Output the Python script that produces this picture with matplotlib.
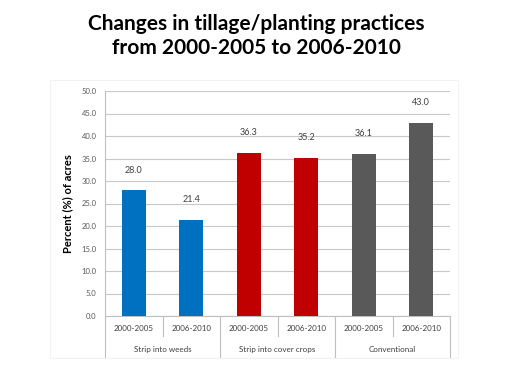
import numpy as np
import matplotlib.pyplot as plt
from matplotlib.patches import Rectangle

groups = ['Strip into weeds', 'Strip into cover crops', 'Conventional']
periods = ['2000-2005', '2006-2010']
values = [28.0, 21.4, 36.3, 35.2, 36.1, 43.0]
colors = ['#0070C0', '#0070C0', '#C00000', '#C00000', '#595959', '#595959']

plt.rcParams['font.family'] = ['Lato', 'DejaVu Sans']

fig = plt.figure(figsize=(5.12, 3.84), dpi=100)
W, H = 512, 384
ax = fig.add_axes([105 / W, 1 - 316 / H, (450 - 105) / W, (316 - 91) / H])

x = np.arange(len(values))
ax.bar(x, values, width=0.42, color=colors, zorder=3)
for xi, v in zip(x, values):
    ax.text(xi, v + 4.4, f'{v:.1f}', ha='center', va='center', fontsize=6.5, color='#404040')

ax.set_xlim(-0.5, len(values) - 0.5)
ax.set_ylim(0, 50)
ax.set_yticks(np.arange(0, 50.1, 5))
ax.set_yticklabels([f'{t:.1f}' for t in np.arange(0, 50.1, 5)], fontsize=5.5, color='#595959')
ax.yaxis.grid(True, color='#C8C8C8', lw=0.8, zorder=0)
ax.tick_params(axis='y', length=0, pad=6)
ax.tick_params(axis='x', length=0, labelbottom=False)
for s in ['top', 'right']:
    ax.spines[s].set_visible(False)
ax.spines['left'].set_color('#BFBFBF')
ax.spines['bottom'].set_color('#BFBFBF')
ax.set_ylabel('Percent (%) of acres', fontsize=8, fontweight='bold', labelpad=6)

# two-level category axis
trans = ax.get_xaxis_transform()
for i, p in enumerate(periods * len(groups)):
    ax.text(i, -0.057, p, transform=trans, ha='center', va='center', fontsize=5.8, color='#404040')
for g, name in enumerate(groups):
    ax.text(2 * g + 0.5, -0.15, name, transform=trans, ha='center', va='center', fontsize=5.8, color='#404040')
for b in np.arange(-0.5, len(values), 1.0):
    depth = -0.186 if (b + 0.5) % 2 == 0 else -0.09
    ax.plot([b, b], [0, depth], transform=trans, color='#BFBFBF', lw=0.8, clip_on=False)

# chart area frame
fig.patches.append(Rectangle((50 / W, 1 - 358 / H), (458 - 50) / W, (358 - 80) / H,
                             transform=fig.transFigure, fill=False, ec='#F2F2F2', lw=0.8))

fig.text(0.5, 1 - 24 / H, 'Changes in tillage/planting practices', ha='center', va='center',
         fontsize=15, fontweight='bold')
fig.text(0.5, 1 - 48 / H, 'from 2000-2005 to 2006-2010', ha='center', va='center',
         fontsize=15, fontweight='bold')

fig.savefig('out.png', dpi=100)
